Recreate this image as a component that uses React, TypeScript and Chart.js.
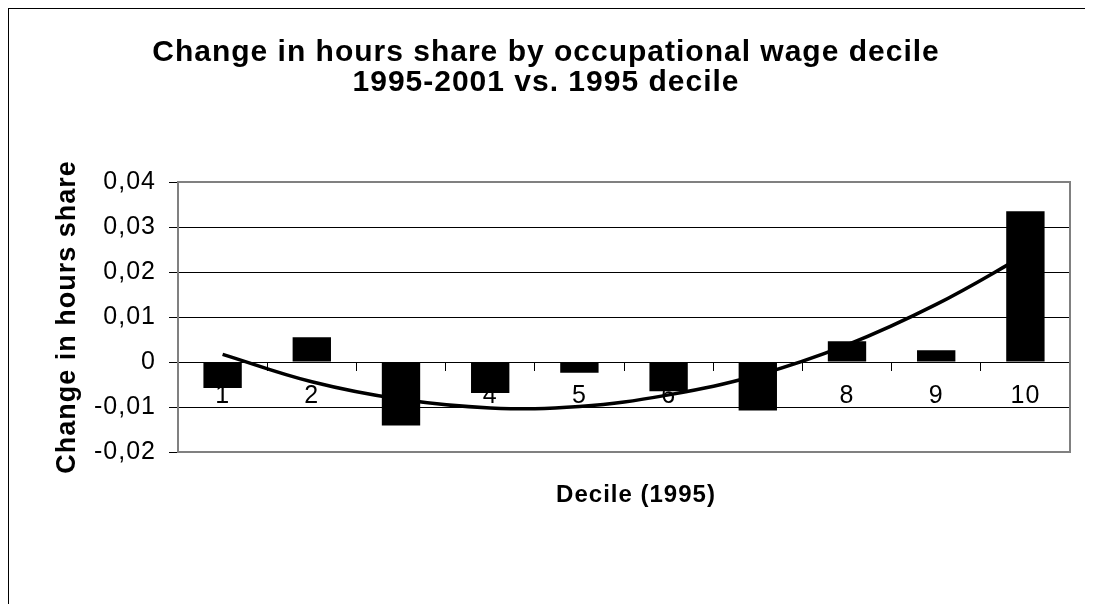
import React, { useEffect, useRef } from 'react';
import { Chart, registerables } from 'chart.js';

Chart.register(...registerables);

const titleLines = ['Change in hours share by occupational wage decile', '1995-2001 vs. 1995 decile'];
const xAxisTitle = 'Decile (1995)';
const yAxisTitle = 'Change in hours share';
const deciles = ['1', '2', '3', '4', '5', '6', '7', '8', '9', '10'];
const hoursShareChange = [-0.0058, 0.0055, -0.0141, -0.0069, -0.0024, -0.0065, -0.0108, 0.0046, 0.0026, 0.0335];
const trendValues = [0.0017, -0.0044, -0.0083, -0.0102, -0.0099, -0.0073, -0.0029, 0.0038, 0.0128, 0.0238];
const yMin = -0.02;
const yMax = 0.04;
const yStep = 0.01;

const FONT = 'Arial, "Liberation Sans", sans-serif';
const W = 1084;
const H = 595;

export default function App() {
  const ref = useRef<HTMLCanvasElement>(null);

  useEffect(() => {
    document.documentElement.style.overflow = 'hidden';
    document.body.style.overflow = 'hidden';
    const canvas = ref.current!;

    const spacing = {
      id: 'letterSpacing',
      beforeUpdate(c: any) { c.ctx.letterSpacing = '1px'; },
      beforeDraw(c: any) { c.ctx.letterSpacing = '1px'; },
    };
    const titleShift = {
      id: 'titleShift',
      afterLayout(c: any) {
        const s = c.scales.xt;
        if (s) { s.left += 24; }
      },
    };
    const plotBorder = {
      id: 'plotBorder',
      beforeDatasetsDraw(c: any) {
        const { ctx, chartArea: a } = c;
        ctx.save();
        ctx.strokeStyle = '#808080';
        ctx.lineWidth = 2;
        ctx.strokeRect(a.left, a.top, a.right - a.left, a.bottom - a.top);
        ctx.restore();
      },
    };

    const chart = new Chart(canvas, {
      type: 'bar',
      data: {
        labels: deciles,
        datasets: [
          {
            type: 'bar',
            label: 'Change in hours share',
            data: hoursShareChange,
            backgroundColor: '#000',
            borderWidth: 0,
            barPercentage: 0.43,
            categoryPercentage: 1,
            order: 1,
            xAxisID: 'x',
            yAxisID: 'y',
          } as any,
          {
            type: 'line',
            label: 'Trend',
            data: trendValues,
            borderColor: '#000',
            borderWidth: 3.5,
            pointRadius: 0,
            tension: 0.4,
            fill: false,
            order: 2,
            xAxisID: 'x',
            yAxisID: 'y',
          } as any,
        ],
      },
      options: {
        responsive: false,
        animation: false,
        events: [],
        layout: { padding: { left: 13, right: 23, top: 0, bottom: 0 } },
        plugins: {
          legend: { display: false },
          tooltip: { enabled: false },
          title: {
            display: true,
            text: titleLines,
            color: '#000',
            font: { family: FONT, size: 30, weight: 'bold', lineHeight: 1 },
            padding: { top: 29, bottom: 84 },
          },
        },
        scales: {
          x: {
            offset: true,
            grid: { display: false, drawTicks: false },
            border: { display: false },
            ticks: { display: false },
            title: { display: false },
          },
          xt: {
            type: 'category',
            labels: deciles,
            position: 'bottom',
            offset: true,
            grid: { display: false, drawTicks: false },
            border: { display: false },
            ticks: { display: false },
            title: {
              display: true,
              text: xAxisTitle,
              color: '#000',
              font: { family: FONT, size: 24, weight: 'bold' },
              padding: { top: 28.6, bottom: 94.6 },
            },
          },
          x2: {
            type: 'category',
            labels: deciles,
            position: { y: 0 },
            offset: true,
            grid: {
              display: true,
              offset: true,
              drawOnChartArea: false,
              drawTicks: true,
              tickLength: 8,
              tickColor: '#000',
              color: '#000',
            },
            border: { display: true, color: '#000', width: 1 },
            ticks: {
              color: '#000',
              font: { family: FONT, size: 25 },
              padding: 11,
              autoSkip: false,
              maxRotation: 0,
            },
          },
          y: {
            min: yMin,
            max: yMax,
            ticks: {
              stepSize: yStep,
              color: '#000',
              font: { family: FONT, size: 25 },
              padding: 13,
              callback: (v: any) => (Math.abs(Number(v)) < 1e-9 ? '0' : Number(v).toFixed(2).replace('.', ',')),
            },
            grid: { color: '#000', lineWidth: 1, tickLength: 9, tickColor: '#000', drawTicks: true },
            border: { display: false },
            title: {
              display: true,
              text: yAxisTitle,
              color: '#000',
              font: { family: FONT, size: 27, weight: 'bold' },
              padding: { top: 29, bottom: 0 },
            },
            afterFit: (scale: any) => { scale.width = 156; },
          },
        } as any,
      },
      plugins: [spacing, titleShift, plotBorder],
    } as any);

    return () => chart.destroy();
  }, []);

  return (
    <div style={{ borderTop: '1px solid #000', borderLeft: '1px solid #000', width: W + 'px', height: H + 'px' }}>
      <canvas ref={ref} width={W} height={H} style={{ display: 'block', width: W + 'px', height: H + 'px' }} />
    </div>
  );
}
